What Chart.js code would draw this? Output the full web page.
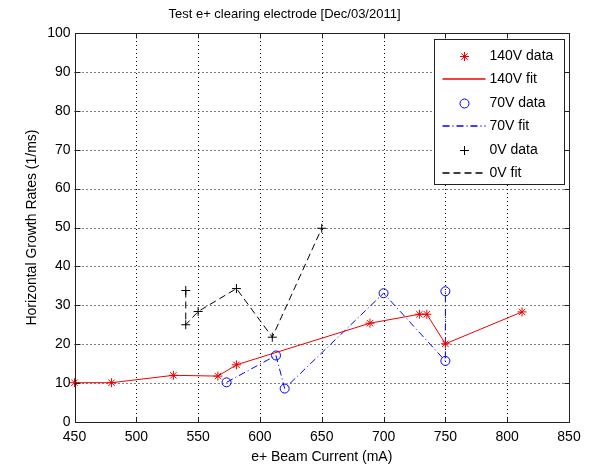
<!DOCTYPE html>
<html><head><meta charset="utf-8">
<script src="https://cdn.jsdelivr.net/npm/chart.js@4.4.0/dist/chart.umd.min.js"></script>
<style>html,body{margin:0;padding:0;background:#fff;}#wrap{width:590px;height:466px;}</style>
</head><body><div id="wrap"><canvas id="c" width="590" height="466"></canvas></div>
<script>
// ---- data ----
const current140 = [450, 480, 530, 566, 581, 689, 729, 735, 750, 812];
const rate140    = [10.1, 10.1, 12.0, 11.8, 14.7, 25.4, 27.7, 27.7, 20.1, 28.3];
const current70  = [573, 613, 620, 700, 750, 750];
const rate70     = [10.2, 17.1, 8.6, 33.1, 15.7, 33.6];
const current0   = [540, 540, 550, 581, 610, 650];
const rate0      = [33.8, 25.0, 28.4, 34.3, 21.8, 49.8];
const xTickValues = [450, 500, 550, 600, 650, 700, 750, 800, 850];
const yTickValues = [0, 10, 20, 30, 40, 50, 60, 70, 80, 90, 100];
const seriesLabels = ['140V data', '140V fit', '70V data', '70V fit', '0V data', '0V fit'];
const titleText = 'Test e+ clearing electrode [Dec/03/2011]';
const xTitle = 'e+ Beam Current (mA)';
const yTitle = 'Horizontal Growth Rates (1/ms)';

const FONT = '"Liberation Sans", Arial, Helvetica, sans-serif';
const RED = '#f00000', BLUE = '#0000ff', BLACK = '#000000';
const pts = (xs, ys) => xs.map((v, i) => ({x: v, y: ys[i]}));

const styles = [
  {color: RED, line: false, marker: 'star', fill: RED},
  {color: RED, line: true, dash: []},
  {color: BLUE, line: false, marker: 'circle', fill: 'rgba(0,0,0,0)'},
  {color: BLUE, line: true, dash: [7, 3, 1, 3]},
  {color: BLACK, line: false, marker: 'cross', fill: BLACK},
  {color: BLACK, line: true, dash: [7, 4]}
];
const seriesData = [
  pts(current140, rate140), pts(current140, rate140),
  pts(current70, rate70), pts(current70, rate70),
  pts(current0, rate0), pts(current0, rate0)
];

const datasets = seriesLabels.map((lab, i) => {
  const s = styles[i];
  return s.line
    ? {label: lab, data: seriesData[i], showLine: true, pointRadius: 0, borderColor: s.color, backgroundColor: s.color, borderWidth: 1, borderDash: s.dash, order: 2}
    : {label: lab, data: seriesData[i], showLine: false, pointStyle: s.marker, pointRadius: 4.5, borderColor: s.color, backgroundColor: s.fill, pointBorderColor: s.color, pointBackgroundColor: s.fill, pointBorderWidth: 1, clip: false, order: 1};
});

const framePlugin = {
  id: 'frame',
  beforeDatasetsDraw(chart) {
    const {ctx, chartArea: a, scales: {x, y}} = chart;
    ctx.save();
    ctx.strokeStyle = '#000'; ctx.lineWidth = 1; ctx.setLineDash([1, 3]);
    ctx.beginPath();
    x.ticks.forEach(t => {
      if (t.value === x.min || t.value === x.max) return;
      const px = Math.round(x.getPixelForValue(t.value)) + 0.5;
      ctx.moveTo(px, a.top); ctx.lineTo(px, a.bottom);
    });
    y.ticks.forEach(t => {
      if (t.value === y.min || t.value === y.max) return;
      const py = Math.round(y.getPixelForValue(t.value)) + 0.5;
      ctx.moveTo(a.left, py); ctx.lineTo(a.right, py);
    });
    ctx.stroke();
    ctx.restore();
  },
  afterDatasetsDraw(chart) {
    const {ctx, chartArea: a, scales: {x, y}} = chart;
    const L = Math.round(a.left) + 0.5, R = Math.round(a.right) + 0.5, T = Math.round(a.top) + 0.5, B = Math.round(a.bottom) + 0.5;
    ctx.save();
    ctx.strokeStyle = '#222'; ctx.lineWidth = 1; ctx.setLineDash([]);
    ctx.strokeRect(L, T, R - L, B - T);
    const tl = 5;
    ctx.beginPath();
    x.ticks.forEach(t => {
      const px = Math.round(x.getPixelForValue(t.value)) + 0.5;
      ctx.moveTo(px, B); ctx.lineTo(px, B - tl);
      ctx.moveTo(px, T); ctx.lineTo(px, T + tl);
    });
    y.ticks.forEach(t => {
      const py = Math.round(y.getPixelForValue(t.value)) + 0.5;
      ctx.moveTo(L, py); ctx.lineTo(L + tl, py);
      ctx.moveTo(R, py); ctx.lineTo(R - tl, py);
    });
    ctx.stroke();
    ctx.restore();
  },
  afterDraw(chart) {
    const {ctx, chartArea: a} = chart;
    const bx = 434.5, by = Math.round(a.top) + 6.5, bw = Math.round(a.right) - 5 - 434, bh = 145;
    ctx.save();
    ctx.fillStyle = '#fff';
    ctx.fillRect(bx, by, bw, bh);
    ctx.strokeStyle = '#222'; ctx.lineWidth = 1; ctx.setLineDash([]);
    ctx.strokeRect(bx, by, bw, bh);
    const rowY0 = by + 16, step = 23.5;
    chart.data.datasets.forEach((ds, i) => {
      const s = styles[i];
      const ry = Math.round(rowY0 + i * step) + 0.5;
      ctx.save();
      ctx.strokeStyle = s.color;
      if (s.line) {
        ctx.lineWidth = 1.3;
        ctx.setLineDash(s.dash);
        ctx.beginPath(); ctx.moveTo(bx + 8, ry - 0.5); ctx.lineTo(bx + 51, ry - 0.5); ctx.stroke();
      } else {
        ctx.lineWidth = 1;
        ctx.setLineDash([]);
        ctx.fillStyle = s.fill;
        Chart.helpers.drawPoint(ctx, {pointStyle: s.marker, radius: 4.5, borderWidth: 1, rotation: 0}, bx + 30, ry);
      }
      ctx.restore();
      ctx.fillStyle = '#000';
      ctx.font = '14px ' + FONT;
      ctx.textBaseline = 'middle';
      ctx.textAlign = 'left';
      ctx.fillText(ds.label, bx + 55, ry);
    });
    ctx.restore();
  }
};

new Chart(document.getElementById('c'), {
  type: 'scatter',
  data: {datasets},
  options: {
    responsive: false,
    animation: false,
    devicePixelRatio: 1,
    layout: {padding: {left: 0, right: 21, top: 0, bottom: 0}},
    plugins: {
      legend: {display: false},
      tooltip: {enabled: false},
      title: {display: true, text: titleText, color: '#000', font: {family: FONT, size: 13, weight: 'normal'}, padding: {top: 7, bottom: 10.4}}
    },
    scales: {
      x: {
        type: 'linear', min: 450, max: 850,
        afterBuildTicks: s => { s.ticks = xTickValues.map(v => ({value: v})); },
        afterFit: s => { s.height = 44; },
        grid: {display: false, drawTicks: false},
        border: {display: false},
        ticks: {color: '#000', font: {family: FONT, size: 14}, padding: 7, maxRotation: 0, autoSkip: false},
        title: {display: true, text: xTitle, color: '#000', font: {family: FONT, size: 14}, padding: {top: 0, bottom: 0}}
      },
      y: {
        type: 'linear', min: 0, max: 100,
        afterBuildTicks: s => { s.ticks = yTickValues.map(v => ({value: v})); },
        afterFit: s => { s.width = 74.5; },
        grid: {display: false, drawTicks: false},
        border: {display: false},
        ticks: {color: '#000', font: {family: FONT, size: 14}, padding: 4, autoSkip: false},
        title: {display: true, text: yTitle, color: '#000', font: {family: FONT, size: 14}, padding: {top: 24, bottom: 0}}
      }
    }
  },
  plugins: [framePlugin]
});
</script>
</body></html>
